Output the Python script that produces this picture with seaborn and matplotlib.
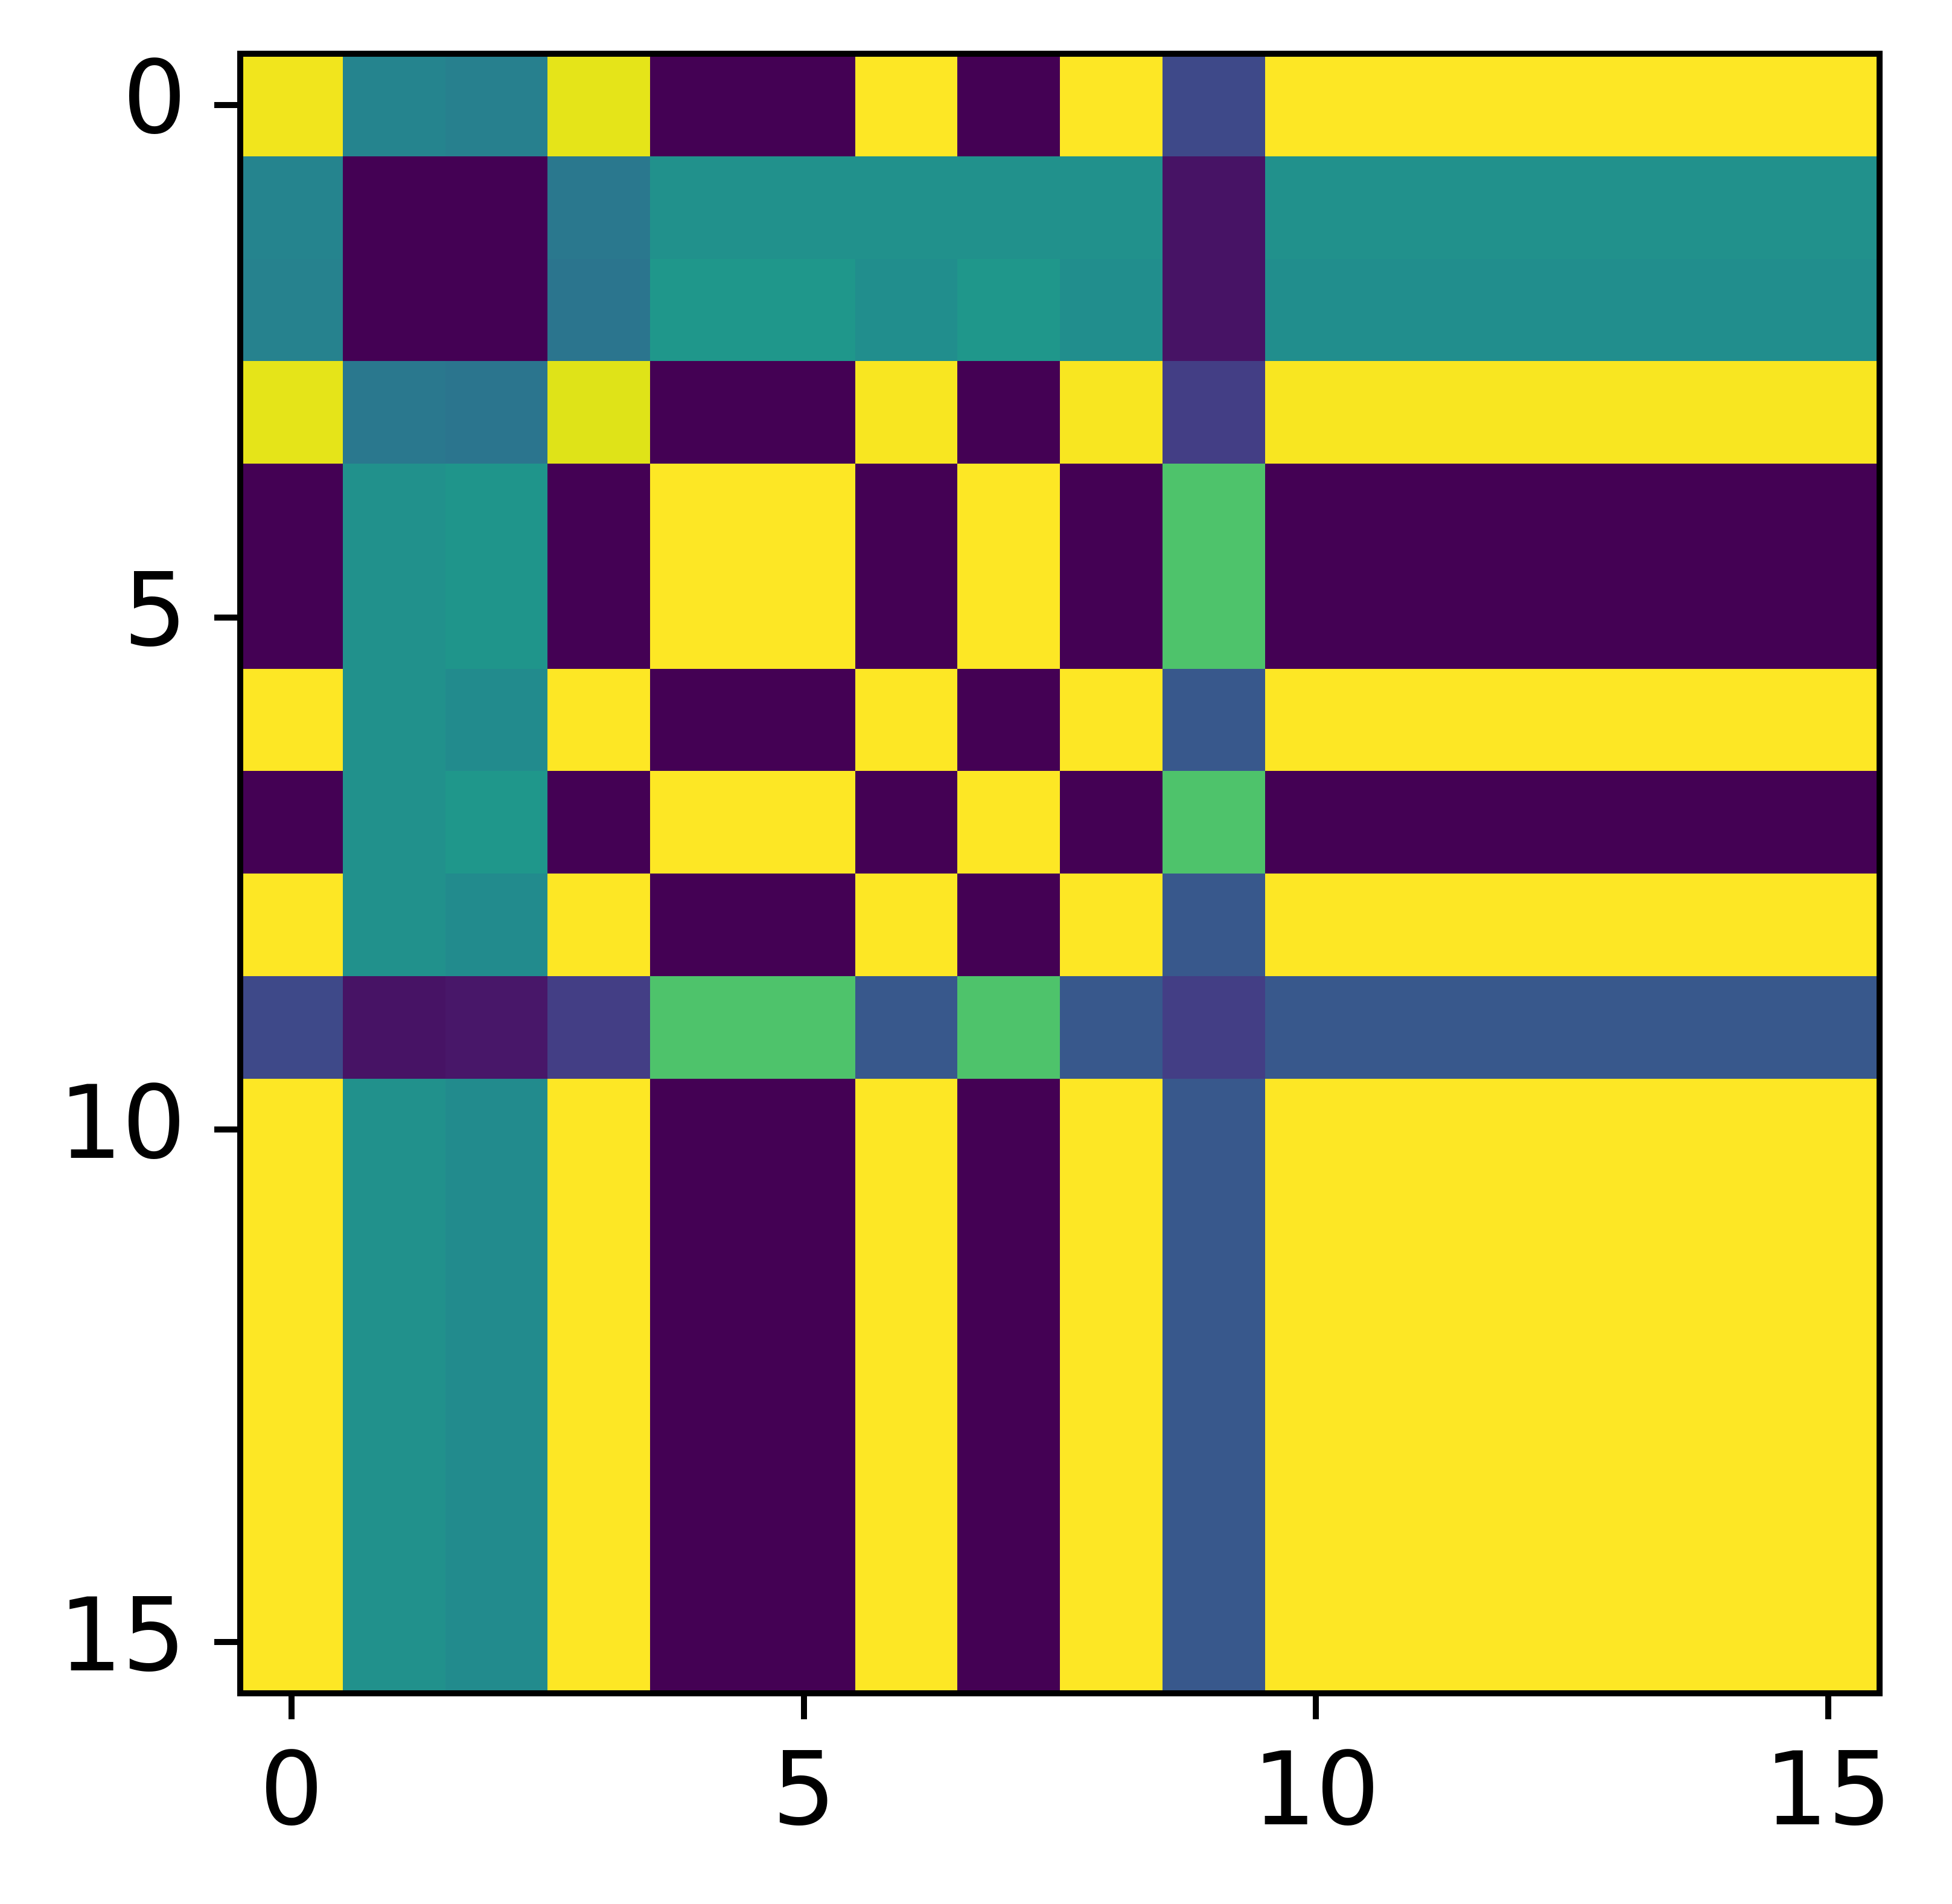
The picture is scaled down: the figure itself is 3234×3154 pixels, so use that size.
import numpy as np
import matplotlib
matplotlib.use('Agg')
import matplotlib.pyplot as plt
import seaborn as sns

# Matrix values, one row at a time (0..1 on viridis)
row_0 = [0.98, 0.45, 0.43, 0.96, 0.0, 0.0, 1.0, 0.0, 1.0, 0.22, 1.0, 1.0, 1.0, 1.0, 1.0, 1.0]
row_1 = [0.45, 0.0, 0.0, 0.40, 0.50, 0.50, 0.50, 0.50, 0.50, 0.05, 0.50, 0.50, 0.50, 0.50, 0.50, 0.50]
row_2 = [0.44, 0.0, 0.0, 0.39, 0.53, 0.53, 0.49, 0.53, 0.49, 0.05, 0.49, 0.49, 0.49, 0.49, 0.49, 0.49]
row_3 = [0.96, 0.40, 0.39, 0.95, 0.0, 0.0, 0.99, 0.0, 0.99, 0.18, 0.99, 0.99, 0.99, 0.99, 0.99, 0.99]
row_4 = [0.0, 0.50, 0.52, 0.0, 1.0, 1.0, 0.0, 1.0, 0.0, 0.72, 0.0, 0.0, 0.0, 0.0, 0.0, 0.0]
row_5 = [0.0, 0.50, 0.52, 0.0, 1.0, 1.0, 0.0, 1.0, 0.0, 0.72, 0.0, 0.0, 0.0, 0.0, 0.0, 0.0]
row_6 = [1.0, 0.50, 0.48, 1.0, 0.0, 0.0, 1.0, 0.0, 1.0, 0.27, 1.0, 1.0, 1.0, 1.0, 1.0, 1.0]
row_7 = [0.0, 0.50, 0.53, 0.0, 1.0, 1.0, 0.0, 1.0, 0.0, 0.72, 0.0, 0.0, 0.0, 0.0, 0.0, 0.0]
row_8 = [1.0, 0.50, 0.48, 1.0, 0.0, 0.0, 1.0, 0.0, 1.0, 0.27, 1.0, 1.0, 1.0, 1.0, 1.0, 1.0]
row_9 = [0.22, 0.05, 0.06, 0.18, 0.72, 0.72, 0.27, 0.72, 0.27, 0.18, 0.27, 0.27, 0.27, 0.27, 0.27, 0.27]
row_10 = [1.0, 0.50, 0.48, 1.0, 0.0, 0.0, 1.0, 0.0, 1.0, 0.27, 1.0, 1.0, 1.0, 1.0, 1.0, 1.0]
row_11 = [1.0, 0.50, 0.48, 1.0, 0.0, 0.0, 1.0, 0.0, 1.0, 0.27, 1.0, 1.0, 1.0, 1.0, 1.0, 1.0]
row_12 = [1.0, 0.50, 0.48, 1.0, 0.0, 0.0, 1.0, 0.0, 1.0, 0.27, 1.0, 1.0, 1.0, 1.0, 1.0, 1.0]
row_13 = [1.0, 0.50, 0.48, 1.0, 0.0, 0.0, 1.0, 0.0, 1.0, 0.27, 1.0, 1.0, 1.0, 1.0, 1.0, 1.0]
row_14 = [1.0, 0.50, 0.48, 1.0, 0.0, 0.0, 1.0, 0.0, 1.0, 0.27, 1.0, 1.0, 1.0, 1.0, 1.0, 1.0]
row_15 = [1.0, 0.50, 0.48, 1.0, 0.0, 0.0, 1.0, 0.0, 1.0, 0.27, 1.0, 1.0, 1.0, 1.0, 1.0, 1.0]

tick_values = [0, 5, 10, 15]
tick_labels = ['0', '5', '10', '15']

matrix = np.array([row_0, row_1, row_2, row_3, row_4, row_5, row_6, row_7,
                   row_8, row_9, row_10, row_11, row_12, row_13, row_14, row_15])

sns.set_style('white')
plt.rcParams['font.family'] = ['DejaVu Sans']

W, H, DPI = 3234, 3154, 600
fig = plt.figure(figsize=(W / DPI, H / DPI), dpi=DPI)
ax = fig.add_axes([398 / W, 1 - 2805 / H, 2716 / W, 2716 / H])

sns.heatmap(matrix, cmap='viridis', vmin=0, vmax=1, cbar=False,
            square=True, ax=ax)

# imshow-like ticks at cell centres
ax.set_xticks([t + 0.5 for t in tick_values])
ax.set_xticklabels(tick_labels, rotation=0)
ax.set_yticks([t + 0.5 for t in tick_values])
ax.set_yticklabels(tick_labels, rotation=0)
ax.tick_params(axis='both', which='major', labelsize=20, length=5.2,
               width=1.2, color='black', labelcolor='black',
               left=True, bottom=True, pad=5.5)

# put the frame back
for side in ['top', 'bottom', 'left', 'right']:
    ax.spines[side].set_visible(True)
    ax.spines[side].set_color('black')
    ax.spines[side].set_linewidth(1.2)

fig.savefig('out.png', dpi=DPI)
